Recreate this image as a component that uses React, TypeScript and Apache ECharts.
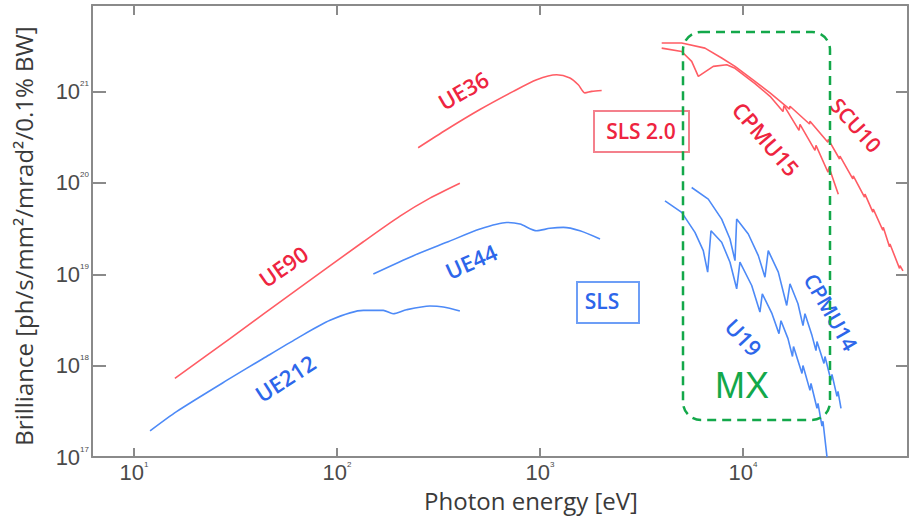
import React, { useEffect, useRef } from 'react';
import * as echarts from 'echarts';

// ---- axes ----
const xTicks = [10, 100, 1000, 10000];
const yTicks = [1e17, 1e18, 1e19, 1e20, 1e21];
const xMin = 6.21;
const xMax = 65000;
const yMin = 1e17;
const yMax = 8.87e21;

// ---- SLS (blue) ----
const ue212: [number, number][] = [
  [12.0, 1.94e17], [16.2, 3.15e17], [29.7, 7.26e17], [43.3, 1.2e18], [63.3, 1.98e18],
  [92.4, 3.14e18], [134.8, 4.03e18], [169, 4.03e18], [189, 3.71e18], [220, 4.1e18],
  [287, 4.5e18], [334, 4.39e18], [403, 3.97e18],
];
const ue44: [number, number][] = [
  [151, 1.01e19], [238, 1.6e19], [347, 2.24e19], [506, 3.13e19], [685, 3.7e19],
  [797, 3.55e19], [963, 3.0e19], [1120, 3.19e19], [1303, 3.27e19], [1574, 3.0e19],
  [1976, 2.44e19],
];
const u19: [number, number][] = [
  [4128, 6.374e19], [4989, 4.764e19], [5800, 2.884e19], [6374, 1.817e19], [6700, 1.057e19],
  [6957, 3.0e19], [7852, 2.244e19], [8630, 1.358e19], [9310, 6.95e18],
  [9660, 1.358e19], [11040, 7.55e18], [12120, 3.87e18],
  [12450, 6.13e18], [13900, 3.71e18], [15040, 2.246e18],
  [15390, 3.11e18], [16660, 1.98e18], [17530, 1.261e18],
  [17740, 1.621e18], [19530, 8.23e17],
  [19750, 1.006e18], [21380, 5.37e17],
  [21630, 6.4e17], [23150, 3.42e17],
  [23420, 3.88e17], [24490, 2.18e17],
  [24770, 2.47e17], [25940, 1e17],
];
const cpmu14: [number, number][] = [
  [5588, 8.92e19], [6745, 6.65e19], [7852, 4.027e19], [8630, 2.438e19], [9134, 1.414e19],
  [9310, 4.027e19], [10620, 2.763e19], [11900, 1.603e19], [12830, 9.32e18],
  [13320, 1.817e19], [14930, 1.057e19], [16420, 4.57e18],
  [17040, 7.88e18], [18660, 4.77e18], [19750, 2.746e18],
  [20200, 3.71e18], [21880, 2.136e18], [22890, 1.466e18],
  [23150, 1.838e18], [25060, 1.058e18],
  [25350, 1.261e18], [27130, 6.9e17],
  [27440, 8.03e17], [29040, 4.62e17],
  [29380, 5.24e17], [30400, 3.42e17],
];

// ---- SLS 2.0 (red) ----
const ue90: [number, number][] = [
  [15.9, 7.26e17], [29.7, 1.98e18], [63.3, 6.78e18], [134.3, 2.26e19], [204.4, 4.34e19],
  [287, 6.82e19], [403, 9.94e19],
];
const ue36: [number, number][] = [
  [251, 2.43e20], [347, 3.85e20], [506, 6.37e20], [739, 1.007e21], [963, 1.35e21],
  [1208, 1.53e21], [1405, 1.41e21], [1544, 1.19e21], [1666, 9.68e20], [1798, 1.007e21],
  [2013, 1.03e21],
];
const scu10: [number, number][] = [
  [3977, 3.4e21], [4989, 3.4e21], [6497, 2.99e21], [7852, 2.33e21], [9134, 1.89e21],
  [11460, 1.295e21], [13590, 9.68e20], [16950, 6.45e20], [17040, 6.92e20],
  [21270, 4.42e20], [21380, 4.75e20], [26190, 2.79e20], [26320, 3.0e20],
  [29900, 1.83e20], [30050, 1.972e20], [34760, 1.11e20], [34940, 1.194e20],
  [39700, 7.0e19], [39900, 7.54e19], [43630, 4.8e19], [43850, 5.17e19],
  [48850, 3.04e19], [49100, 3.27e19], [52700, 2.0e19], [52970, 2.15e19],
  [59050, 1.16e19], [59350, 1.247e19], [61400, 1.09e19],
];
const cpmu15: [number, number][] = [
  [3977, 2.99e21], [4989, 2.75e21], [5588, 2.14e21], [6026, 1.468e21], [7140, 1.89e21],
  [8317, 1.968e21], [9134, 1.8e21], [11460, 1.222e21], [13590, 8.89e20],
  [15740, 6.05e20], [15920, 7.03e20], [18880, 3.76e20], [19090, 4.37e20],
  [22630, 2.275e20], [22890, 2.58e20], [26230, 1.31e20], [26530, 1.485e20],
  [29480, 7.54e19],
];

const RED = '#ff5c64';
const BLUE = '#4d8af7';
const RED_TXT = '#ee2440';
const BLUE_TXT = '#2d66ea';
const GREEN = '#13a84a';
const AXIS = '#8a8a8a';
const LABEL = '#4a4a4a';
const TXT_FONT = '"Open Sans", "Noto Sans", sans-serif';
const AX_FONT = '"Liberation Sans", Arial, sans-serif';

const expFormatter = (v: number) => `{b|10}{e|${Math.round(Math.log10(v))}}`;
const rich = {
  b: { fontSize: 22, fontFamily: AX_FONT, color: LABEL, lineHeight: 24 },
  e: { fontSize: 8, fontFamily: AX_FONT, color: LABEL, verticalAlign: 'top' as const, lineHeight: 24 },
};

function line(name: string, data: [number, number][], color: string, smooth = false) {
  return {
    name,
    type: 'line',
    data,
    showSymbol: false,
    symbol: 'none',
    smooth: smooth ? 0.25 : false,
    lineStyle: { color, width: 1.6 },
    emphasis: { disabled: true },
  };
}

function label(text: string, x: number, y: number, deg: number, color: string, size = 22) {
  return {
    type: 'text',
    x,
    y,
    rotation: (deg * Math.PI) / 180,
    z: 100,
    style: {
      text,
      fill: color,
      font: `600 ${size}px ${TXT_FONT}`,
      textAlign: 'center',
      textVerticalAlign: 'middle',
    },
  };
}

export default function App() {
  const ref = useRef<HTMLDivElement>(null);
  useEffect(() => {
    if (!ref.current) return;
    const chart = echarts.init(ref.current, undefined, { renderer: 'svg' });
    const axisLine = { show: true, lineStyle: { color: AXIS, width: 2 } };
    chart.setOption({
      animation: false,
      backgroundColor: '#ffffff',
      grid: { left: 92, right: 1, top: 5, bottom: 58, containLabel: false },
      xAxis: [
        {
          type: 'log', logBase: 10, min: xMin, max: xMax, position: 'bottom',
          axisLine,
          axisTick: { show: true, inside: true, length: 9, customValues: xTicks, lineStyle: { color: AXIS, width: 2 } },
          minorTick: { show: false },
          splitLine: { show: false },
          axisLabel: { customValues: xTicks, formatter: expFormatter, rich, margin: 3 },
          name: 'Photon energy [eV]',
          nameLocation: 'middle',
          nameGap: 26,
          nameTextStyle: { fontFamily: TXT_FONT, fontSize: 24, color: '#3a3a3a', padding: [0, 0, 0, 62] },
        },
        {
          type: 'log', logBase: 10, min: xMin, max: xMax, position: 'top',
          axisLine,
          axisTick: { show: true, inside: true, length: 10, customValues: xTicks, lineStyle: { color: AXIS, width: 2 } },
          minorTick: { show: false },
          splitLine: { show: false },
          axisLabel: { show: false },
        },
      ],
      yAxis: [
        {
          type: 'log', logBase: 10, min: yMin, max: yMax, position: 'left',
          axisLine,
          axisTick: { show: true, inside: true, length: 14, customValues: yTicks, lineStyle: { color: AXIS, width: 2 } },
          minorTick: { show: false },
          splitLine: { show: false },
          axisLabel: { customValues: yTicks, formatter: expFormatter, rich, margin: 3 },
          name: 'Brilliance [ph/s/mm²/mrad²/0.1% BW]',
          nameLocation: 'middle',
          nameRotate: 90,
          nameGap: 57,
          nameTextStyle: { fontFamily: TXT_FONT, fontSize: 24, color: '#3a3a3a', padding: [0, 10, 0, 0] },
        },
        {
          type: 'log', logBase: 10, min: yMin, max: yMax, position: 'right',
          axisLine,
          axisTick: { show: true, inside: true, length: 12, customValues: yTicks, lineStyle: { color: AXIS, width: 2 } },
          minorTick: { show: false },
          splitLine: { show: false },
          axisLabel: { show: false },
        },
      ],
      series: [
        line('UE212', ue212, BLUE, true),
        line('UE44', ue44, BLUE, true),
        line('U19', u19, BLUE),
        line('CPMU14', cpmu14, BLUE),
        line('UE90', ue90, RED, true),
        line('UE36', ue36, RED, true),
        line('SCU10', scu10, RED),
        line('CPMU15', cpmu15, RED),
      ],
      graphic: [
        label('UE36', 463, 90, 30, RED_TXT),
        label('UE90', 283, 266, 35, RED_TXT),
        label('UE44', 471, 261, 24, BLUE_TXT),
        label('UE212', 285, 378, 33, BLUE_TXT),
        label('CPMU15', 766, 139, -49.5, RED_TXT),
        label('SCU10', 856, 125, -48, RED_TXT, 21),
        label('U19', 744, 337, -47, BLUE_TXT),
        label('CPMU14', 831, 312, -60, BLUE_TXT, 21),
        {
          type: 'rect', z: 90,
          shape: { x: 594, y: 111, width: 95, height: 41 },
          style: { fill: 'none', stroke: '#f4808c', lineWidth: 2 },
        },
        label('SLS 2.0', 641, 131, 0, RED_TXT, 21),
        {
          type: 'rect', z: 90,
          shape: { x: 577, y: 282, width: 62, height: 41 },
          style: { fill: 'none', stroke: '#6d9ef6', lineWidth: 2 },
        },
        label('SLS', 602, 301, 0, BLUE_TXT, 21),
        {
          type: 'rect', z: 110,
          shape: { x: 683, y: 32, width: 147, height: 388, r: 18 },
          style: { fill: 'none', stroke: GREEN, lineWidth: 2.5, lineDash: [9, 6] },
        },
        {
          type: 'text', x: 742, y: 385, z: 110,
          style: {
            text: 'MX', fill: GREEN, font: `36px ${AX_FONT}`,
            textAlign: 'center', textVerticalAlign: 'middle',
          },
        },
      ],
    });
    return () => chart.dispose();
  }, []);
  return (
    <div
      ref={ref}
      style={{ position: 'absolute', left: 0, top: 0, width: 909, height: 517, background: '#fff' }}
    />
  );
}
